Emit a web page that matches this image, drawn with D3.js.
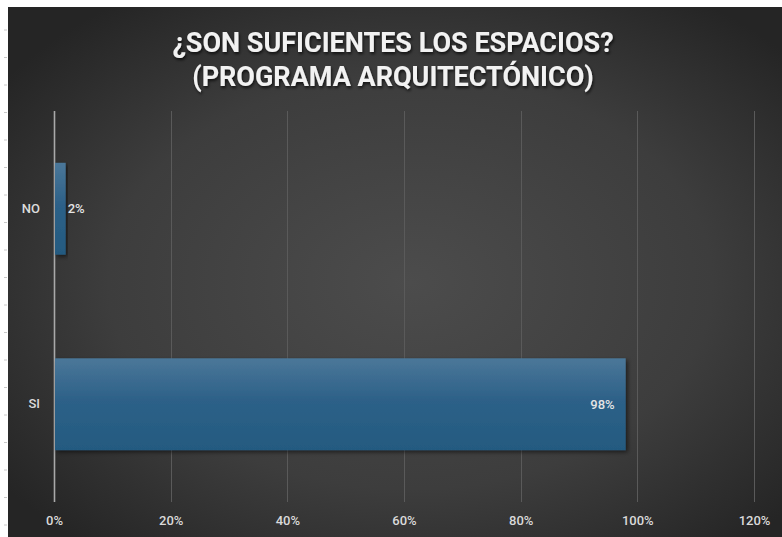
<!DOCTYPE html>
<html>
<head>
<meta charset="utf-8">
<script src="https://cdn.jsdelivr.net/npm/d3@7/dist/d3.min.js"></script>
<style>
  html, body { margin: 0; padding: 0; background: #ffffff; }
  svg { display: block; }
</style>
</head>
<body>
<svg id="chart" width="782" height="537"></svg>
<script>
// Survey answers and their shares
const categories = ["NO", "SI"];
const values = [0.02, 0.98];
const valueLabels = ["2%", "98%"];
const xTicks = [0, 0.2, 0.4, 0.6, 0.8, 1.0, 1.2];
const titleLines = ["¿SON SUFICIENTES LOS ESPACIOS?", "(PROGRAMA ARQUITECTÓNICO)"];

const W = 782, H = 537;
const svg = d3.select("#chart");
const defs = svg.append("defs");

// Dark panel with a soft radial glow
const bg = defs.append("radialGradient").attr("id", "bgGrad")
  .attr("cx", "52%").attr("cy", "52%").attr("r", "65%");
bg.append("stop").attr("offset", "0%").attr("stop-color", "#4c4c4c");
bg.append("stop").attr("offset", "60%").attr("stop-color", "#3d3d3d");
bg.append("stop").attr("offset", "100%").attr("stop-color", "#252525");

const barGrad = defs.append("linearGradient").attr("id", "barGrad")
  .attr("x1", 0).attr("y1", 0).attr("x2", 0).attr("y2", 1);
barGrad.append("stop").attr("offset", "0%").attr("stop-color", "#4b7799");
barGrad.append("stop").attr("offset", "45%").attr("stop-color", "#2d6188");
barGrad.append("stop").attr("offset", "100%").attr("stop-color", "#245a80");

const shadow = defs.append("filter").attr("id", "barShadow")
  .attr("x", "-10%").attr("y", "-10%").attr("width", "130%").attr("height", "130%");
shadow.append("feDropShadow").attr("dx", 2).attr("dy", 2).attr("stdDeviation", 2)
  .attr("flood-color", "#000").attr("flood-opacity", 0.55);

const titleShadow = defs.append("filter").attr("id", "titleShadow")
  .attr("x", "-5%").attr("y", "-20%").attr("width", "110%").attr("height", "150%");
titleShadow.append("feDropShadow").attr("dx", 1).attr("dy", 2).attr("stdDeviation", 1.5)
  .attr("flood-color", "#000").attr("flood-opacity", 0.7);

const panelX = 8, panelY = 7;
svg.append("rect").attr("x", panelX).attr("y", panelY)
  .attr("width", W - panelX).attr("height", H - panelY)
  .attr("fill", "url(#bgGrad)");

// faint sheet row marks in the left margin
svg.append("g").selectAll("line")
  .data(d3.range(0, 19))
  .join("line")
  .attr("x1", 4).attr("x2", 7)
  .attr("y1", k => 30 + k * 27.5).attr("y2", k => 30 + k * 27.5)
  .attr("stroke", "#c8c8c8").attr("stroke-width", 1);

// Scales
const plot = { left: 54, right: 754, top: 111, bottom: 502 };
const x = d3.scaleLinear().domain([0, 1.2]).range([plot.left, plot.right]);
const y = d3.scaleBand().domain(categories).range([plot.top, plot.bottom])
  .paddingInner(0.53).paddingOuter(0.265);

const font = "Roboto, 'Liberation Sans', Arial, sans-serif";

// Vertical gridlines
svg.append("g").selectAll("line")
  .data(xTicks)
  .join("line")
  .attr("x1", d => Math.round(x(d)) + 0.5).attr("x2", d => Math.round(x(d)) + 0.5)
  .attr("y1", plot.top).attr("y2", plot.bottom)
  .attr("stroke", d => d === 0 ? "#a9a9a9" : "#5a5a5a")
  .attr("stroke-width", d => d === 0 ? 1.6 : 1);

// X axis labels
const xAxis = d3.axisBottom(x).tickValues(xTicks)
  .tickFormat(d3.format(".0%")).tickSize(0).tickPadding(0);
const gx = svg.append("g").attr("transform", `translate(0, ${plot.bottom + 14})`).call(xAxis);
gx.select(".domain").remove();
gx.selectAll("text")
  .attr("fill", "#dadada").attr("font-family", font).attr("font-weight", 500)
  .attr("font-size", 13).attr("dy", "0.71em");

// Category labels
const yAxis = d3.axisLeft(y).tickSize(0).tickPadding(14);
const gy = svg.append("g").attr("transform", `translate(${plot.left}, 0)`).call(yAxis);
gy.select(".domain").remove();
gy.selectAll("text")
  .attr("fill", "#dcdcdc").attr("font-family", font).attr("font-weight", 500)
  .attr("font-size", 13);

// Bars
const rows = categories.map((c, i) => ({ cat: c, v: values[i], label: valueLabels[i] }));
svg.append("g").selectAll("rect")
  .data(rows)
  .join("rect")
  .attr("x", x(0) + 1)
  .attr("y", d => y(d.cat))
  .attr("width", d => x(d.v) - x(0) - 1)
  .attr("height", y.bandwidth())
  .attr("fill", "url(#barGrad)")
  .attr("filter", "url(#barShadow)");

// Value labels: inside the end of wide bars, just past the end of narrow ones
svg.append("g").selectAll("text")
  .data(rows)
  .join("text")
  .attr("x", d => d.v > 0.1 ? x(d.v) - 11 : x(d.v) + 2)
  .attr("y", d => y(d.cat) + y.bandwidth() / 2)
  .attr("dy", "0.35em")
  .attr("text-anchor", d => d.v > 0.1 ? "end" : "start")
  .attr("fill", "#e4e4e4").attr("font-family", font).attr("font-weight", 500)
  .attr("font-size", 13)
  .text(d => d.label);

// Title
svg.append("g").attr("filter", "url(#titleShadow)").selectAll("text")
  .data(titleLines)
  .join("text")
  .attr("x", 393)
  .attr("y", (d, i) => 52 + i * 34)
  .attr("text-anchor", "middle")
  .attr("fill", "#f2f2f2")
  .attr("font-family", font)
  .attr("font-weight", "bold")
  .attr("font-size", 27)
  .attr("letter-spacing", 0)
  .text(d => d);
</script>
</body>
</html>
